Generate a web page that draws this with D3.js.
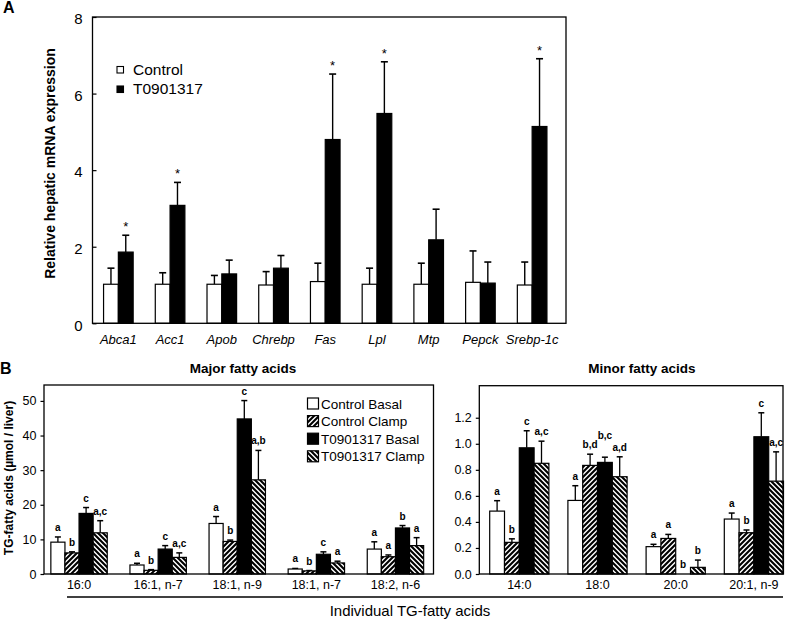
<!DOCTYPE html>
<html>
<head>
<meta charset="utf-8">
<script src="https://cdn.jsdelivr.net/npm/d3@7"></script>
<style>
  html, body { margin: 0; padding: 0; background: #fff; }
  svg { display: block; font-family: "Liberation Sans", Arial, sans-serif; }
</style>
</head>
<body>
<svg id="chart" width="800" height="621"></svg>
<script>
// ---------- Panel A data ----------
const genes = ["Abca1", "Acc1", "Apob", "Chrebp", "Fas", "Lpl", "Mtp", "Pepck", "Srebp-1c"];
const controlMean = [1.02, 1.02, 1.02, 1.00, 1.09, 1.02, 1.02, 1.07, 1.00];
const controlErr  = [0.42, 0.30, 0.23, 0.35, 0.48, 0.42, 0.55, 0.82, 0.60];
const t09Mean     = [1.86, 3.08, 1.29, 1.44, 4.80, 5.48, 2.18, 1.05, 5.14];
const t09Err      = [0.44, 0.60, 0.36, 0.33, 1.71, 1.35, 0.80, 0.55, 1.77];
const t09Sig      = ["*", "*", "", "", "*", "*", "", "", "*"];
const yTicksA     = [0, 2, 4, 6, 8];
const legendA     = ["Control", "T0901317"];

// ---------- Panel B data ----------
const majorAcids = ["16:0", "16:1, n-7", "18:1, n-9", "18:1, n-7", "18:2, n-6"];
const majCBasal  = [9.2, 2.6, 14.6, 1.44, 7.2];
const majCBasalErr = [1.5, 0.5, 2.0, 0.16, 2.1];
const majCClamp  = [6.1, 1.06, 9.4, 0.9, 5.0];
const majCClampErr = [0.3, 0.2, 0.4, 0.1, 0.5];
const majTBasal  = [17.5, 7.2, 44.8, 5.7, 13.3];
const majTBasalErr = [1.7, 1.0, 5.3, 0.7, 0.7];
const majTClamp  = [11.9, 4.8, 27.2, 3.2, 8.2];
const majTClampErr = [3.5, 1.3, 8.5, 0.5, 2.3];
const majSigCB = ["a", "a", "a", "a", "a"];
const majSigCC = ["b", "b", "b", "b", "a"];
const majSigTB = ["c", "c", "c", "c", "b"];
const majSigTC = ["a,c", "a,c", "a,b", "a", "a"];
const yTicksMajor = [0, 10, 20, 30, 40, 50];

const minorAcids = ["14:0", "18:0", "20:0", "20:1, n-9"];
const minCBasal  = [0.483, 0.565, 0.210, 0.422];
const minCBasalErr = [0.080, 0.113, 0.018, 0.046];
const minCClamp  = [0.243, 0.834, 0.273, 0.317];
const minCClampErr = [0.027, 0.086, 0.031, 0.021];
const minTBasal  = [0.969, 0.857, 0.0, 1.054];
const minTBasalErr = [0.131, 0.040, 0.0, 0.184];
const minTClamp  = [0.850, 0.747, 0.051, 0.713];
const minTClampErr = [0.170, 0.153, 0.056, 0.225];
const minSigCB = ["a", "a", "a", "a"];
const minSigCC = ["b", "b,d", "a", "b"];
const minSigTB = ["c", "b,c", "b", "c"];
const minSigTC = ["a,c", "a,d", "b", "a,c"];
const yTicksMinor = [0, 0.2, 0.4, 0.6, 0.8, 1.0, 1.2];

const groupNames = ["Control Basal", "Control Clamp", "T0901317 Basal", "T0901317 Clamp"];

// ---------- Setup ----------
const svg = d3.select("#chart");
const defs = svg.append("defs");

function hatch(id, dir) {
  const p = defs.append("pattern")
    .attr("id", id).attr("patternUnits", "userSpaceOnUse")
    .attr("width", 5).attr("height", 5);
  p.append("rect").attr("width", 5).attr("height", 5).attr("fill", "#fff");
  const d = dir === "/"
    ? "M-1,1 l2,-2 M0,5 l5,-5 M4,6 l2,-2"
    : "M-1,4 l2,2 M0,0 l5,5 M4,-1 l2,2";
  p.append("path").attr("d", d).attr("stroke", "#000").attr("stroke-width", 2.1);
}
hatch("hatchFwd", "/");
hatch("hatchBack", "\\");
const fills = ["#fff", "url(#hatchFwd)", "#000", "url(#hatchBack)"];

// ---------- Panel A ----------
const A = { left: 92.5, right: 566, top: 17, bottom: 323.3 };
const xA = d3.scaleBand().domain(genes).range([92.5, 558]);
const yA = d3.scaleLinear().domain([0, 8]).range([A.bottom, A.top]);
const barWA = 14.8;

svg.append("text").attr("x", 3).attr("y", 13).attr("font-size", 16).attr("font-weight", "bold").text("A");

const gA = svg.append("g");
const seriesA = [
  { mean: controlMean, err: controlErr, fill: "#fff", off: -barWA },
  { mean: t09Mean, err: t09Err, fill: "#000", off: 0 }
];
seriesA.forEach(s => {
  genes.forEach((g, i) => {
    const cx = xA(g) + xA.bandwidth() / 2 + s.off;
    const top = yA(s.mean[i] + s.err[i]);
    gA.append("line").attr("x1", cx + barWA / 2).attr("x2", cx + barWA / 2)
      .attr("y1", yA(s.mean[i])).attr("y2", top).attr("stroke", "#000").attr("stroke-width", 1.4);
    gA.append("line").attr("x1", cx + barWA / 2 - 3.5).attr("x2", cx + barWA / 2 + 3.5)
      .attr("y1", top).attr("y2", top).attr("stroke", "#000").attr("stroke-width", 1.6);
    gA.append("rect").attr("x", cx).attr("y", yA(s.mean[i]))
      .attr("width", barWA).attr("height", yA(0) - yA(s.mean[i]))
      .attr("fill", s.fill).attr("stroke", "#000").attr("stroke-width", 1.2);
  });
});
genes.forEach((g, i) => {
  if (t09Sig[i]) {
    const cx = xA(g) + xA.bandwidth() / 2 + barWA / 2;
    gA.append("text").attr("x", cx).attr("y", yA(t09Mean[i] + t09Err[i]) - 4)
      .attr("text-anchor", "middle").attr("font-size", 13).attr("fill", "#000").text(t09Sig[i]);
  }
});
// box
gA.append("rect").attr("x", A.left).attr("y", A.top).attr("width", A.right - A.left)
  .attr("height", A.bottom - A.top).attr("fill", "none").attr("stroke", "#000").attr("stroke-width", 1.3);
// y axis
const axA = svg.append("g").attr("transform", `translate(${A.left},0)`)
  .call(d3.axisLeft(yA).tickValues(yTicksA).tickSize(-4).tickPadding(10).tickFormat(d3.format("d")));
axA.select(".domain").remove();
axA.selectAll("text").attr("font-size", 15).attr("font-family", "Liberation Sans, Arial, sans-serif").attr("dy", "0.45em");
axA.selectAll("line").attr("stroke-width", 1.2);
// x labels
genes.forEach(g => {
  svg.append("text").attr("x", xA(g) + xA.bandwidth() / 2).attr("y", 344)
    .attr("text-anchor", "middle").attr("font-size", 13).attr("font-style", "italic").text(g);
});
// y label
svg.append("text").attr("transform", "translate(55,163.5) rotate(-90)")
  .attr("text-anchor", "middle").attr("font-size", 14).attr("font-weight", "bold")
  .text("Relative hepatic mRNA expression");
// legend A
legendA.forEach((name, i) => {
  const y = 66.5 + i * 19.5;
  svg.append("rect").attr("x", 117).attr("y", y).attr("width", 6.5).attr("height", 6.5)
    .attr("fill", i === 0 ? "#fff" : "#000").attr("stroke", "#000").attr("stroke-width", 1.1);
  svg.append("text").attr("x", 133).attr("y", y + 8).attr("font-size", 15.5).text(name);
});

// ---------- Panel B ----------
svg.append("text").attr("x", 0).attr("y", 374).attr("font-size", 16).attr("font-weight", "bold").text("B");

function drawPanel(cfg) {
  const g = svg.append("g");
  const x = d3.scaleBand().domain(cfg.cats).range(cfg.band);
  const y = d3.scaleLinear().domain(cfg.domain).range([cfg.bottom, cfg.top]);
  const bw = cfg.barW;
  const lastLabel = {};
  cfg.series.forEach((s, k) => {
    cfg.cats.forEach((c, i) => {
      const x0 = x(c) + x.bandwidth() / 2 - 2 * bw + k * bw;
      const cx = x0 + bw / 2;
      const v = s.mean[i], e = s.err[i];
      if (v > 0) {
        const top = y(v + e);
        g.append("line").attr("x1", cx).attr("x2", cx).attr("y1", y(v)).attr("y2", top)
          .attr("stroke", "#000").attr("stroke-width", 1.3);
        g.append("line").attr("x1", cx - 3).attr("x2", cx + 3).attr("y1", top).attr("y2", top)
          .attr("stroke", "#000").attr("stroke-width", 1.5);
        g.append("rect").attr("x", x0).attr("y", y(v)).attr("width", bw).attr("height", y(0) - y(v))
          .attr("fill", fills[k]).attr("stroke", "#000").attr("stroke-width", 1.2);
      }
      const t = g.append("text").attr("x", cx).attr("y", y(v + e) - 6).attr("text-anchor", "middle")
        .attr("font-size", 10).attr("font-weight", "bold").text(s.sig[i]);
      // avoid collisions with the neighbouring label on the left
      let ly = y(v + e) - 6;
      const w = t.node().getComputedTextLength();
      const prev = lastLabel[c];
      if (prev && (prev.w + w) / 2 > bw - 0.5 && Math.abs(prev.y - ly) < 9.5) {
        ly = prev.y - 9.5;
        t.attr("y", ly);
      }
      lastLabel[c] = { y: ly, w: w };
    });
  });
  g.append("rect").attr("x", cfg.left).attr("y", cfg.top).attr("width", cfg.right - cfg.left)
    .attr("height", cfg.bottom - cfg.top).attr("fill", "none").attr("stroke", "#000").attr("stroke-width", 1.3);
  const ax = svg.append("g").attr("transform", `translate(${cfg.left},0)`)
    .call(d3.axisLeft(y).tickValues(cfg.ticks).tickSize(3.5).tickPadding(4).tickFormat(cfg.fmt));
  ax.select(".domain").remove();
  ax.selectAll("text").attr("font-size", 12.5).attr("font-family", "Liberation Sans, Arial, sans-serif");
  ax.selectAll("line").attr("stroke-width", 1.2);
  cfg.cats.forEach(c => {
    svg.append("text").attr("x", x(c) + x.bandwidth() / 2).attr("y", 588.5).attr("text-anchor", "middle")
      .attr("font-size", 12.5).text(c);
  });
  svg.append("text").attr("x", cfg.titleX).attr("y", 373).attr("text-anchor", "middle")
    .attr("font-size", 13.5).attr("font-weight", "bold").text(cfg.title);
}

drawPanel({
  cats: majorAcids, band: [39.5, 435], domain: [0, 54.6], top: 385, bottom: 574,
  left: 44, right: 433.5, barW: 14.1, ticks: yTicksMajor, fmt: d3.format("d"),
  title: "Major fatty acids", titleX: 243,
  series: [
    { mean: majCBasal, err: majCBasalErr, sig: majSigCB },
    { mean: majCClamp, err: majCClampErr, sig: majSigCC },
    { mean: majTBasal, err: majTBasalErr, sig: majSigTB },
    { mean: majTClamp, err: majTClampErr, sig: majSigTC }
  ]
});
drawPanel({
  cats: minorAcids, band: [480.2, 793], domain: [0, 1.446], top: 385.7, bottom: 574,
  left: 479.3, right: 783, barW: 14.8, ticks: yTicksMinor, fmt: d3.format(".1f"),
  title: "Minor fatty acids", titleX: 642,
  series: [
    { mean: minCBasal, err: minCBasalErr, sig: minSigCB },
    { mean: minCClamp, err: minCClampErr, sig: minSigCC },
    { mean: minTBasal, err: minTBasalErr, sig: minSigTB },
    { mean: minTClamp, err: minTClampErr, sig: minSigTC }
  ]
});

// legend B
groupNames.forEach((name, k) => {
  const cy = 403.5 + k * 17.6;
  svg.append("rect").attr("x", 307.5).attr("y", cy - 5.5).attr("width", 11).attr("height", 11)
    .attr("fill", fills[k]).attr("stroke", "#000").attr("stroke-width", 1.2);
  svg.append("text").attr("x", 321).attr("y", cy + 5).attr("font-size", 13.5).text(name);
});

// y label B
svg.append("text").attr("transform", "translate(13,478) rotate(-90)")
  .attr("text-anchor", "middle").attr("font-size", 12).attr("font-weight", "bold")
  .text("TG-fatty acids (µmol / liver)");

// bottom bracket and label
svg.append("line").attr("x1", 67).attr("x2", 783).attr("y1", 597).attr("y2", 597)
  .attr("stroke", "#000").attr("stroke-width", 1.3);
svg.append("text").attr("x", 410).attr("y", 616).attr("text-anchor", "middle")
  .attr("font-size", 15).text("Individual TG-fatty acids");
</script>
</body>
</html>
